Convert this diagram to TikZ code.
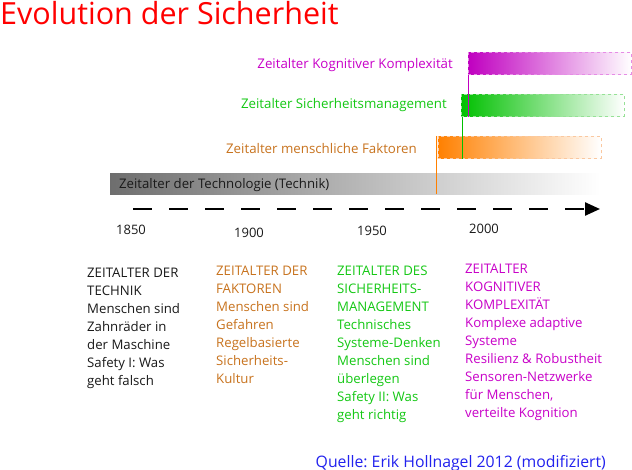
\documentclass[tikz,border=0pt]{standalone}
\usepackage{fontspec}
\setmainfont{Open Sans}
\usetikzlibrary{arrows.meta}
\definecolor{magC}{RGB}{192,0,192}
\definecolor{magL}{RGB}{230,140,230}
\definecolor{grnC}{RGB}{0,192,0}
\definecolor{grnL}{RGB}{150,225,150}
\definecolor{orgC}{RGB}{255,128,0}
\definecolor{orgL}{RGB}{250,200,160}
\definecolor{orgT}{RGB}{200,115,30}
\definecolor{grnT}{RGB}{20,200,20}
\definecolor{magT}{RGB}{200,0,200}
\definecolor{txtK}{RGB}{26,26,26}
\definecolor{srcB}{RGB}{34,34,238}
\definecolor{gryD}{RGB}{110,110,110}
\frenchspacing
\begin{document}
\begin{tikzpicture}[x=1pt,y=-1pt,
  bar/.style={anchor=north west,inner sep=0pt,minimum height=22pt,dashed,line width=0.6pt},
  barlabel/.style={anchor=base east,inner sep=0pt,font=\fontsize{13.3}{16}\selectfont},
  yearlbl/.style={inner sep=0pt,font=\fontsize{13}{16}\selectfont,text=txtK},
  coltext/.style={anchor=north west,inner sep=0pt,align=left,font=\fontsize{13.2}{18}\selectfont},
  vline/.style={line width=0.9pt}]
\useasboundingbox (0,0) rectangle (632,470);
\fill[white] (0,0) rectangle (632,470);
% title
\node[anchor=base west,inner sep=0pt,text=red,font=\fontsize{30.5}{34}\selectfont] (title) at (0,25) {Evolution der Sicherheit};
% technology bar
\node[anchor=north west,inner sep=0pt,minimum width=490pt,minimum height=21pt,left color=gryD,right color=white] (tbar) at (110,173) {};
\node[anchor=west,inner sep=0pt,text=txtK,font=\fontsize{13.2}{16}\selectfont] (tlabel) at (119,185) {Zeitalter der Technologie (Technik)};
% bars
\node[bar,minimum width=163pt,left color=orgC,right color=white,draw=orgL] (obar) at (437.5,136) {};
\node[bar,minimum width=163pt,left color=grnC,right color=white,draw=grnL] (gbar) at (461,94) {};
\node[bar,minimum width=163pt,left color=magC,right color=white,draw=magL] (mbar) at (468,52) {};
% vertical lines
\coordinate (oline) at (436.5,136);
\draw[vline,orgC] (oline) -- (oline |- tbar.south);
\draw[vline,grnC] ([xshift=1pt]gbar.south west) -- ([xshift=1pt]gbar.south west |- obar.south);
\draw[vline,magC] ([xshift=0.6pt]mbar.south west) -- ([xshift=0.6pt]mbar.south west |- gbar.south);
% bar labels
\node[barlabel,text=magT] (mlabel) at (453,68.5) {Zeitalter Kognitiver Komplexität};
\node[barlabel,text=grnT] (glabel) at (447,108.5) {Zeitalter Sicherheitsmanagement};
\node[barlabel,text=orgT] (olabel) at (417,153.5) {Zeitalter menschliche Faktoren};
% time axis
\coordinate (axs) at (133,209);
\coordinate (axe) at (600,209);
\draw[line width=2.4pt,dash pattern=on 19pt off 17pt,-{Triangle[length=15pt,width=13pt]}] (axs) -- (axe);
% years
\node[yearlbl] (y1850) at (131,230) {1850};
\node[yearlbl] (y1900) at (249,233) {1900};
\node[yearlbl] (y1950) at (372,231) {1950};
\node[yearlbl] (y2000) at (484,229) {2000};
% columns
\node[coltext,text=txtK] (c1) at (87,267.5) {ZEITALTER DER\\TECHNIK\\Menschen sind\\Zahnräder in\\der Maschine\\Safety I: Was\\geht falsch};
\node[coltext,text=orgT] (c2) at (216,265.5) {ZEITALTER DER\\FAKTOREN\\Menschen sind\\Gefahren\\Regelbasierte\\Sicherheits-\\Kultur};
\node[coltext,text=grnT] (c3) at (337,265.5) {ZEITALTER DES\\SICHERHEITS-\\MANAGEMENT\\Technisches\\Systeme-Denken\\Menschen sind\\überlegen\\Safety II: Was\\geht richtig};
\node[coltext,text=magT] (c4) at (465,263.5) {ZEITALTER\\KOGNITIVER\\KOMPLEXITÄT\\Komplexe adaptive\\Systeme\\Resilienz \& Robustheit\\Sensoren-Netzwerke\\für Menschen,\\verteilte Kognition};
% source
\node[anchor=base east,inner sep=0pt,text=srcB,font=\fontsize{15.8}{18}\selectfont] (src) at (606,467) {Quelle: Erik Hollnagel 2012 (modifiziert)};
\end{tikzpicture}
\end{document}
